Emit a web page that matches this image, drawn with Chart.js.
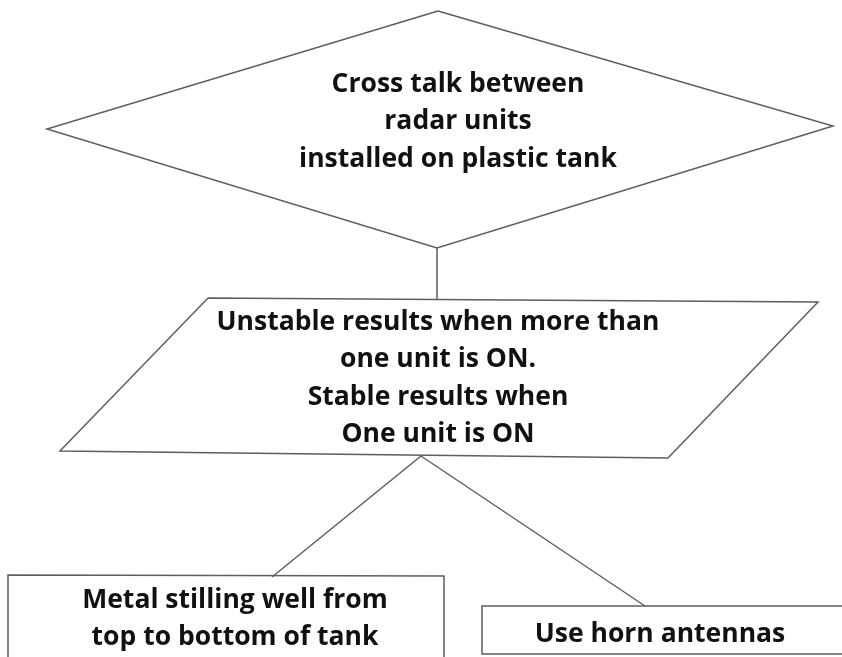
<!DOCTYPE html>
<html>
<head>
<meta charset="utf-8">
<script src="https://cdn.jsdelivr.net/npm/chart.js@4.4.1/dist/chart.umd.min.js"></script>
<style>
  html, body { margin: 0; padding: 0; background: #fff; }
  #wrap { width: 842px; height: 657px; }
</style>
</head>
<body>
<div id="wrap"><canvas id="flowChart" width="842" height="657"></canvas></div>
<script>
// shape outlines (x, y in page units, y grows downwards)
const diamondPts = [[438, 11], [833, 126], [437, 248], [47, 129], [438, 11]];
const paraPts = [[208, 298], [818, 302], [668, 458], [60, 451], [208, 298]];
const leftBoxPts = [[8, 700], [8, 575], [444, 576], [444, 700]];
const rightBoxPts = [[870, 606], [482, 606], [482, 654], [870, 654]];
const linkTop = [[437, 248], [437, 299]];
const linkLeft = [[421, 456], [272, 577]];
const linkRight = [[421, 456], [645, 606]];

// texts
const diamondText = ['Cross talk between', 'radar units', 'installed on plastic tank'];
const paraText = ['Unstable results when more than', 'one unit is ON.', 'Stable results when', 'One unit is ON'];
const leftBoxText = ['Metal stilling well from', 'top to bottom of tank'];
const rightBoxText = ['Use horn antennas'];

// label anchors: centre x, first baseline y
const textBlocks = [
    { lines: diamondText, at: [458, 92] },
    { lines: paraText, at: [438, 330] },
    { lines: leftBoxText, at: [235, 608] },
    { lines: rightBoxText, at: [660, 642] }
];

const toXY = pts => pts.map(p => ({ x: p[0], y: p[1] }));

function shape(data) {
    return {
        type: 'line',
        data: toXY(data),
        showLine: true,
        borderColor: '#5e5e5e',
        borderWidth: 1.5,
        pointRadius: 0,
        fill: false,
        tension: 0
    };
}

const flowLabels = {
    id: 'flowLabels',
    afterDatasetsDraw(chart) {
        const ctx = chart.ctx;
        const xs = chart.scales.x, ys = chart.scales.y;
        ctx.save();
        ctx.fillStyle = '#111';
        ctx.font = '700 26.5px "Open Sans"';
        ctx.textAlign = 'center';
        ctx.textBaseline = 'alphabetic';
        textBlocks.forEach(b => {
            b.lines.forEach((line, i) => {
                const px = xs.getPixelForValue(b.at[0]);
                const py = ys.getPixelForValue(b.at[1] + i * 37.3);
                ctx.fillText(line, px, py);
            });
        });
        ctx.restore();
    }
};

document.addEventListener('DOMContentLoaded', function () {
    const ctx = document.getElementById('flowChart').getContext('2d');

    new Chart(ctx, {
        type: 'scatter',
        data: {
            datasets: [
                shape(diamondPts),
                shape(paraPts),
                shape(leftBoxPts),
                shape(rightBoxPts),
                shape(linkTop),
                shape(linkLeft),
                shape(linkRight)
            ]
        },
        options: {
            responsive: false,
            animation: false,
            layout: { padding: 0 },
            plugins: {
                legend: { display: false },
                tooltip: { enabled: false }
            },
            scales: {
                x: { type: 'linear', min: 0, max: 842, display: false },
                y: { type: 'linear', min: 0, max: 657, reverse: true, display: false }
            }
        },
        plugins: [flowLabels]
    });
});
</script>
</body>
</html>
